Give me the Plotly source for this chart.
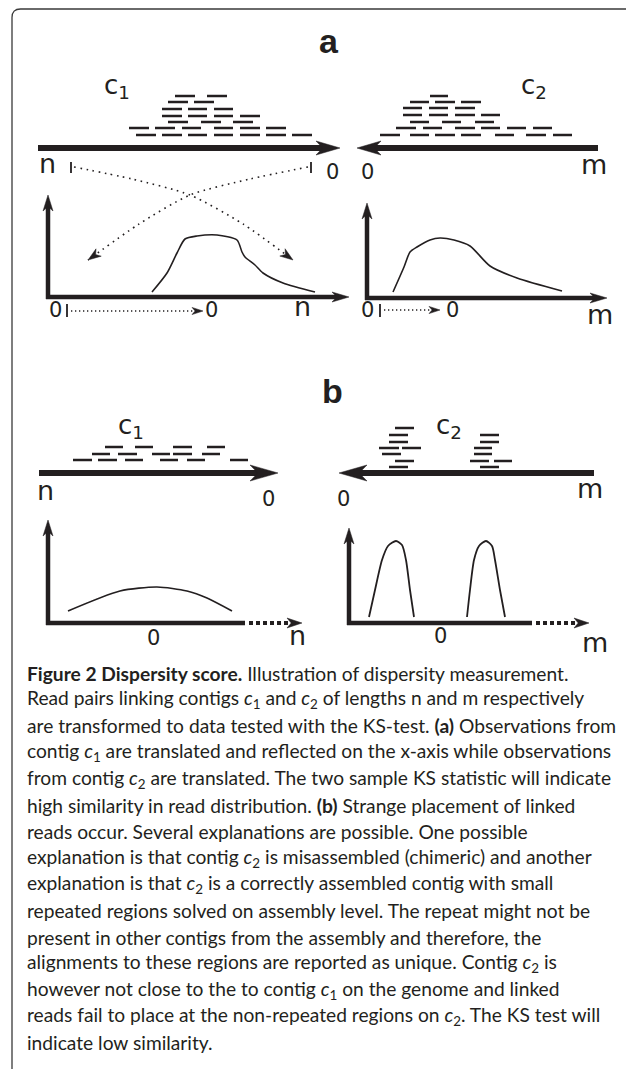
import math
import plotly.graph_objects as go

W, H = 634, 1069
OFF = 8  # page body margin of the browser; the view is shifted so page pixels match
INK = "#231f20"
LABEL_FONT = "DejaVu Sans"
CAPTION_FONT = "Lato"

# ---------------- data ----------------
# Panel a: short reads stacked above contig c1 (row y, [x_start, x_end] per read)
a_c1_rows_y = [96, 102, 109, 116, 122, 128, 135]
a_c1_rows = [
    [[175, 195], [207, 227]],
    [[168, 188], [194, 214]],
    [[162, 182], [188, 207], [214, 233]],
    [[162, 182], [188, 207], [214, 233], [240, 260]],
    [[168, 188], [201, 221], [233, 253]],
    [[129, 149], [155, 175], [182, 201], [214, 233], [240, 260], [266, 286]],
    [[136, 156], [162, 182], [188, 207], [214, 233], [240, 260], [266, 286], [292, 312]],
]
# Panel a: reads above contig c2
a_c2_rows_y = [96, 102, 108, 115, 122, 128, 135]
a_c2_rows = [
    [[430, 448]],
    [[410, 429], [435, 455], [461, 481]],
    [[403, 422], [429, 448], [455, 475]],
    [[403, 422], [429, 448], [455, 475], [481, 500]],
    [[410, 429], [442, 461], [475, 494]],
    [[396, 416], [423, 442], [455, 475], [481, 500], [507, 526], [533, 552]],
    [[380, 400], [410, 429], [435, 455], [461, 481], [495, 514], [526, 546], [553, 572]],
]
# Panel b: reads above contig c1
b_c1_rows_y = [447, 454, 460]
b_c1_rows = [
    [[105, 123], [135, 153], [173, 192], [207, 225]],
    [[92, 110], [118, 137], [152, 170], [173, 192], [202, 220]],
    [[73, 92], [98, 117], [125, 143], [160, 178], [187, 205], [230, 248]],
]
# Panel b: reads above contig c2 (two repeat clusters)
b_c2_rows_y = [428, 435, 442, 448, 454, 461, 467]
b_c2_rows = [
    [[395, 414]],
    [[389, 408], [480, 499]],
    [[389, 408], [480, 499]],
    [[379, 399], [402, 421], [474, 492]],
    [[382, 401], [474, 492]],
    [[395, 414], [470, 489], [494, 512]],
    [[389, 408], [480, 499]],
]

# Distribution curves
a_left_curve_x = [152, 167, 177, 185, 197, 217, 237, 242, 245, 255, 263, 283, 315]
a_left_curve_y = [292, 273, 253, 239, 236, 235, 240, 252, 257, 265, 273, 283, 292]
a_right_curve_x = [393, 404, 410, 417, 430, 440, 454, 470, 490, 517, 562]
a_right_curve_y = [292, 267, 252, 247, 240, 238, 240, 246, 266, 278, 291]
b_left_curve_x = [68, 120, 157, 187, 207, 232]
b_left_curve_y = [611, 591, 587, 591, 598, 611]
b_peak1_x = [369, 375, 382, 388, 396, 402, 406, 410, 414]
b_peak1_y = [617, 590, 560, 546, 541, 545, 560, 590, 617]
b_peak2_x = [467, 470, 474, 479, 486, 492, 495, 500, 505]
b_peak2_y = [617, 590, 560, 546, 541, 546, 560, 590, 617]

# Dotted crossing mapping curves (panel a)
cross1_x = [74, 132, 190, 243, 293]
cross1_y = [167, 179, 195, 224, 260]
cross2_x = [308, 250, 190, 139, 88]
cross2_y = [167, 179, 195, 224, 260]

# Solid arrows: x0, y0, x_tip, y_tip, line width, head length, head half-width
solid_arrows = [
    [38, 148, 340, 148, 6, 24, 7],     # contig c1 (a)
    [598, 148, 357, 148, 6, 24, 7],    # contig c2 (a)
    [48, 299, 48, 195, 4.5, 16, 5],    # y axis a-left
    [46, 297, 349, 297, 4.5, 17, 5],   # x axis a-left
    [367, 300, 367, 203, 4.5, 16, 5],  # y axis a-right
    [365, 298, 607, 298, 4.5, 17, 5],  # x axis a-right
    [39, 473, 278, 473, 6, 28, 8],     # contig c1 (b)
    [594, 473, 339, 473, 6, 28, 8],    # contig c2 (b)
    [48, 625, 48, 520, 4.5, 16, 5],    # y axis b-left
    [349, 625, 349, 528, 4.5, 16, 5],  # y axis b-right
]
# Axis continuations: solid start x, solid end x, dotted end x, tip x, y
axis_tails = [
    [46, 245, 288, 302, 623],
    [347, 532, 575, 589, 623],
]
# Small dotted translation arrows: x0, x_tip, y
dot_arrows = [
    [71, 203, 311],
    [384, 440, 310],
]
# Tick marks: x, y_top, y_bottom
ticks = [
    [71, 162, 173],
    [311, 162, 173],
    [67, 304, 317],
    [380, 304, 317],
]

# Labels: text, x, y, size, bold
labels = [
    ["a", 329, 41, 34, True],
    ["b", 332, 391, 34, True],
    ["c<sub>1</sub>", 102, 86, 26, False],
    ["c<sub>2</sub>", 519, 86, 26, False],
    ["c<sub>1</sub>", 116, 426, 26, False],
    ["c<sub>2</sub>", 434, 426, 26, False],
    ["n", 47, 163, 27, False],
    ["0", 332, 172, 21, False],
    ["0", 367, 172, 21, False],
    ["m", 594, 164, 27, False],
    ["0", 55, 310, 21, False],
    ["0", 211, 310, 21, False],
    ["n", 302, 306, 27, False],
    ["0", 367, 310, 21, False],
    ["0", 452, 310, 21, False],
    ["m", 600, 314, 27, False],
    ["n", 45, 490, 27, False],
    ["0", 268, 499, 21, False],
    ["0", 343, 499, 21, False],
    ["m", 590, 488, 27, False],
    ["0", 153, 638, 21, False],
    ["n", 297, 635, 27, False],
    ["0", 440, 636, 21, False],
    ["m", 595, 642, 27, False],
]

caption_lines = [
    "<b>Figure 2 Dispersity score.</b> Illustration of dispersity measurement.",
    "Read pairs linking contigs <i>c</i><sub>1</sub> and <i>c</i><sub>2</sub> of lengths n and m respectively",
    "are transformed to data tested with the KS-test. <b>(a)</b> Observations from",
    "contig <i>c</i><sub>1</sub> are translated and reflected on the x-axis while observations",
    "from contig <i>c</i><sub>2</sub> are translated. The two sample KS statistic will indicate",
    "high similarity in read distribution. <b>(b)</b> Strange placement of linked",
    "reads occur. Several explanations are possible. One possible",
    "explanation is that contig <i>c</i><sub>2</sub> is misassembled (chimeric) and another",
    "explanation is that <i>c</i><sub>2</sub> is a correctly assembled contig with small",
    "repeated regions solved on assembly level. The repeat might not be",
    "present in other contigs from the assembly and therefore, the",
    "alignments to these regions are reported as unique. Contig <i>c</i><sub>2</sub> is",
    "however not close to the to contig <i>c</i><sub>1</sub> on the genome and linked",
    "reads fail to place at the non-repeated regions on <i>c</i><sub>2</sub>. The KS test will",
    "indicate low similarity.",
]
caption_x = 25
caption_y0 = 673
caption_step = 26.4
caption_size = 19.2

# ---------------- drawing ----------------
fig = go.Figure()


def add_line(xs, ys, width, dash="solid", shape="linear", color=INK):
    fig.add_trace(go.Scatter(x=xs, y=ys, mode="lines",
                             line=dict(color=color, width=width, dash=dash, shape=shape, smoothing=0.7),
                             hoverinfo="skip", showlegend=False))


def add_rows(rows_y, rows, width=2.5):
    xs, ys = [], []
    for y, segs in zip(rows_y, rows):
        for x0, x1 in segs:
            xs += [x0, x1, None]
            ys += [y, y, None]
    add_line(xs, ys, width)


def add_head(xt, yt, ux, uy, length, hw, notch=0.28):
    px, py = -uy, ux
    bx, by = xt - ux * length, yt - uy * length
    nx, ny = xt - ux * length * (1 - notch), yt - uy * length * (1 - notch)
    xs = [xt, bx + px * hw, nx, bx - px * hw, xt]
    ys = [yt, by + py * hw, ny, by - py * hw, yt]
    fig.add_trace(go.Scatter(x=xs, y=ys, mode="lines", fill="toself", fillcolor=INK,
                             line=dict(color=INK, width=0.5), hoverinfo="skip", showlegend=False))


def unit(x0, y0, x1, y1):
    d = math.hypot(x1 - x0, y1 - y0)
    return (x1 - x0) / d, (y1 - y0) / d


def add_arrow(x0, y0, xt, yt, width, length, hw):
    ux, uy = unit(x0, y0, xt, yt)
    stop = length * 0.65
    add_line([x0, xt - ux * stop], [y0, yt - uy * stop], width)
    add_head(xt, yt, ux, uy, length, hw)


# reads
add_rows(a_c1_rows_y, a_c1_rows)
add_rows(a_c2_rows_y, a_c2_rows)
add_rows(b_c1_rows_y, b_c1_rows)
add_rows(b_c2_rows_y, b_c2_rows)

# arrows (contigs & axes)
for x0, y0, xt, yt, w, L, hw in solid_arrows:
    add_arrow(x0, y0, xt, yt, w, L, hw)

for xs_, xd, xe, xt, y in axis_tails:
    add_line([xs_, xd], [y, y], 4.5)
    add_line([xd + 4, xe], [y, y], 4, dash="4px,3px")
    add_head(xt, y, 1, 0, 15, 5)

# ticks
for x, yt_, yb in ticks:
    add_line([x, x], [yt_, yb], 1.8)

# dotted translation arrows
for x0, xt, y in dot_arrows:
    add_line([x0, xt - 6], [y, y], 1.3, dash="1.3px,2.7px")
    add_head(xt, y, 1, 0, 11, 3.6)

# crossing dotted curves
for cx, cy in [(cross1_x, cross1_y), (cross2_x, cross2_y)]:
    add_line(cx, cy, 1.6, dash="1.6px,4.6px", shape="spline")
    ux, uy = unit(cx[-2], cy[-2], cx[-1], cy[-1])
    add_head(cx[-1], cy[-1], ux, uy, 13, 4.5)

# distribution curves
add_line(a_left_curve_x, a_left_curve_y, 1.6, shape="spline")
add_line(a_right_curve_x, a_right_curve_y, 1.6, shape="spline")
add_line(b_left_curve_x, b_left_curve_y, 1.6, shape="spline")
add_line(b_peak1_x, b_peak1_y, 1.8, shape="spline")
add_line(b_peak2_x, b_peak2_y, 1.8, shape="spline")

annotations = []
for text, x, y, size, bold in labels:
    annotations.append(dict(
        x=x, y=y, xref="x", yref="y",
        text="<b>" + text + "</b>" if bold else text, showarrow=False,
        xanchor="left" if text.startswith("c") else "center", yanchor="middle",
        font=dict(family="Liberation Sans" if bold else LABEL_FONT, size=size, color=INK),
    ))

for i, line in enumerate(caption_lines):
    annotations.append(dict(
        x=caption_x, y=caption_y0 + i * caption_step, xref="x", yref="y", text=line,
        showarrow=False, xanchor="left", yanchor="middle", align="left",
        font=dict(family=CAPTION_FONT, size=caption_size, color=INK),
    ))

fig.update_layout(
    width=W, height=H, autosize=False,
    margin=dict(l=0, r=0, t=0, b=0, pad=0),
    paper_bgcolor="white", plot_bgcolor="white",
    xaxis=dict(range=[OFF, W + OFF], visible=False, fixedrange=True),
    yaxis=dict(range=[H + OFF, OFF], visible=False, fixedrange=True),
    annotations=annotations,
    shapes=[dict(type="path", xref="x", yref="y",
                 path=f"M 12,{H + OFF} L 12,17.5 Q 12,9 20.5,9 L {W + OFF},9",
                 line=dict(color="#3a3a3a", width=1.3))],
)

fig.write_html("out.html")
